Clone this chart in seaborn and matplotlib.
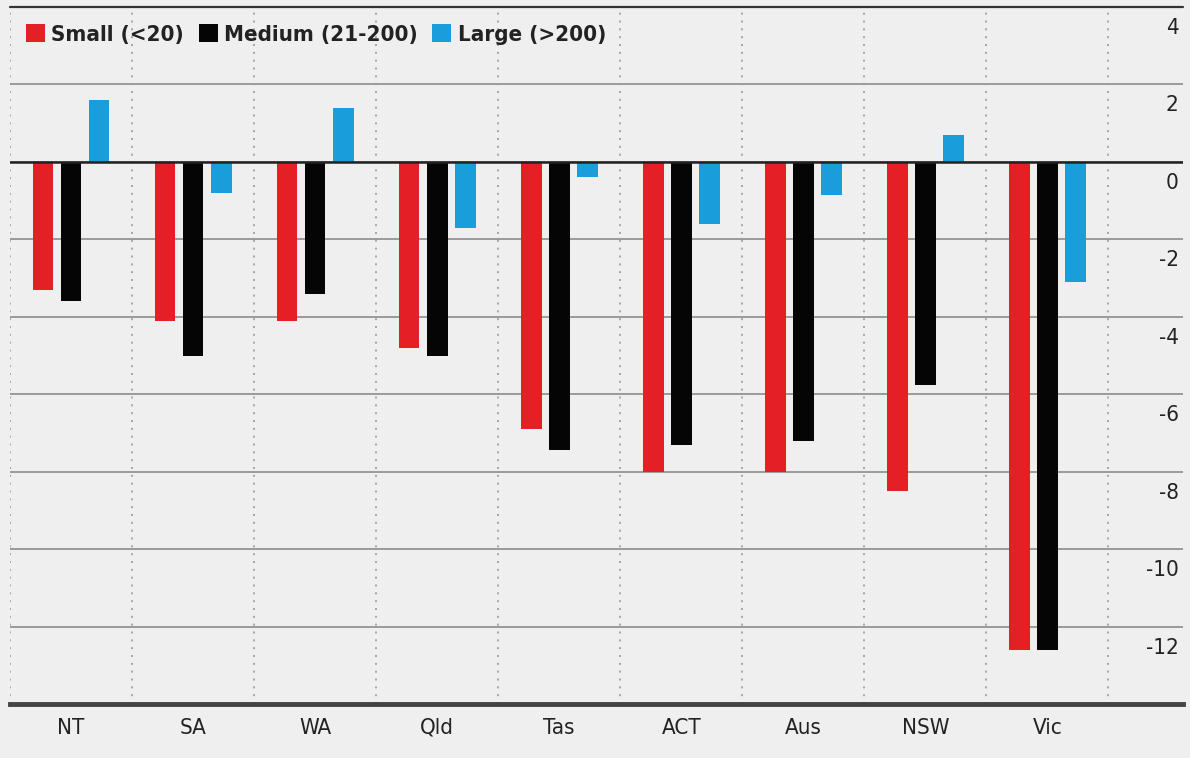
import matplotlib
matplotlib.use("Agg")
import matplotlib.pyplot as plt
import matplotlib.transforms as mtransforms
from matplotlib.ticker import FixedLocator
from matplotlib import font_manager
import seaborn as sns
import pandas as pd

# ---- data ----
states = ["NT", "SA", "WA", "Qld", "Tas", "ACT", "Aus", "NSW", "Vic"]
series_names = ["Small (<20)", "Medium (21-200)", "Large (>200)"]
small = [-3.3, -4.1, -4.1, -4.8, -6.9, -8.0, -8.0, -8.5, -12.6]
medium = [-3.6, -5.0, -3.4, -5.0, -7.45, -7.3, -7.2, -5.75, -12.6]
large = [1.6, -0.8, 1.4, -1.7, -0.4, -1.6, -0.85, 0.7, -3.1]
y_ticks = [4, 2, 0, -2, -4, -6, -8, -10, -12]

colors = ["#e41f26", "#050505", "#1a9ddb"]

rows = []
for name, vals in zip(series_names, [small, medium, large]):
    for s, v in zip(states, vals):
        rows.append({"state": s, "series": name, "value": v})
df = pd.DataFrame(rows)

sns.set_style("white")
names = {f.name for f in font_manager.fontManager.ttflist}
fam = [n for n in ["Liberation Sans Narrow", "DejaVu Sans"] if n in names] or ["DejaVu Sans"]
plt.rcParams["font.family"] = fam
plt.rcParams["font.stretch"] = "condensed"

bg = "#efefef"
fig = plt.figure(figsize=(11.9, 7.58), dpi=100, facecolor=bg)
ax = fig.add_axes([0.0084, 0.0712, 0.9856, 0.9196])
ax.set_facecolor(bg)

sns.barplot(data=df, x="state", y="value", hue="series", order=states,
            hue_order=series_names, palette=colors, saturation=1,
            width=0.69, gap=0.26, ax=ax, errorbar=None, legend=True,
            linewidth=0)

ax.set_xlim(-0.5, 9.11)
ax.set_ylim(-14, 4)
ax.set_xlabel("")
ax.set_ylabel("")

# grid lines
ax.set_yticks(y_ticks)
ax.set_yticklabels([str(t) for t in y_ticks])
ax.yaxis.grid(True, color="#9a9a9a", linewidth=1.4)
ax.xaxis.set_minor_locator(FixedLocator([i - 0.5 for i in range(len(states) + 1)]))
ax.xaxis.grid(True, which="minor", color="#9a9a9a", linestyle=(0, (1.2, 3.5)), linewidth=1.2)
ax.xaxis.grid(False, which="major")
ax.set_axisbelow(True)
ax.axhline(0, color="#222222", linewidth=1.8, zorder=3)
ax.axhline(4, color="#333333", linewidth=1.6, zorder=3, clip_on=False)

for side in ["left", "right", "top"]:
    ax.spines[side].set_visible(False)
ax.spines["bottom"].set_color("#444444")
ax.spines["bottom"].set_linewidth(3.5)

# y tick labels inside the right edge, just below each line
ax.yaxis.tick_right()
ax.tick_params(axis="y", length=0, pad=-3, labelsize=16, labelcolor="#222222")
ax.tick_params(axis="x", which="both", length=0, pad=10, labelsize=16, labelcolor="#222222")
offset = mtransforms.ScaledTranslation(0, -11 / 100, fig.dpi_scale_trans)
for lab in ax.get_yticklabels():
    lab.set_horizontalalignment("right")
    lab.set_verticalalignment("top")
    lab.set_transform(lab.get_transform() + offset)

# legend
h, l = ax.get_legend_handles_labels()
ax.legend(h, l, loc="upper left", bbox_to_anchor=(0.006, 0.988), ncol=3, frameon=False,
          handlelength=0.85, handleheight=0.85, handletextpad=0.3, columnspacing=0.65,
          borderaxespad=0, prop={"family": fam, "stretch": "condensed",
                                  "weight": "bold", "size": 16})
for t in ax.get_legend().get_texts():
    t.set_color("#222222")

fig.savefig("out.png", dpi=100, facecolor=bg)
